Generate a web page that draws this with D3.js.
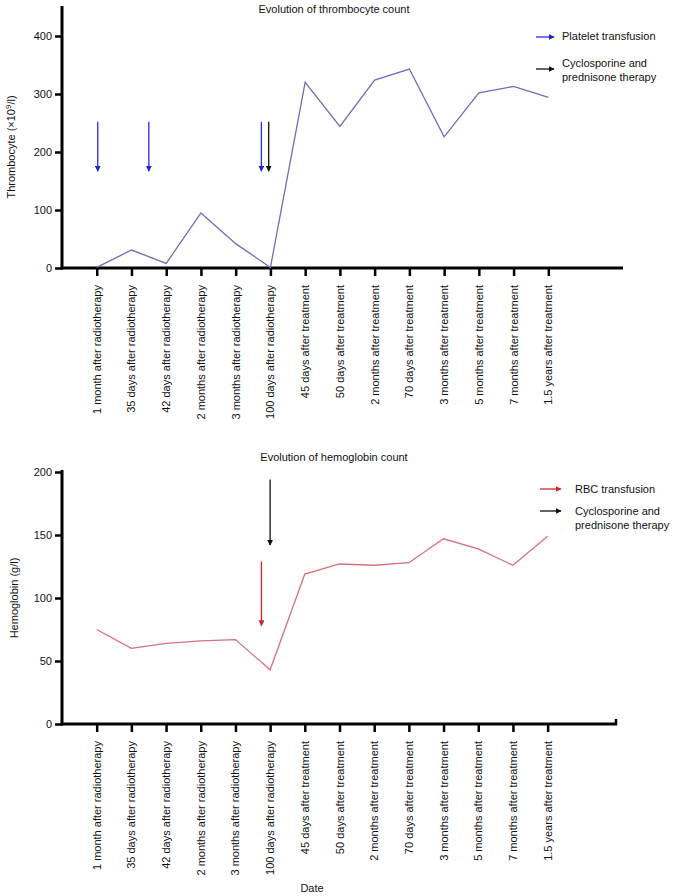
<!DOCTYPE html>
<html><head><meta charset="utf-8">
<script src="https://cdn.jsdelivr.net/npm/d3@7"></script>
<style>body{margin:0;background:#fff}svg{display:block;font-family:"Liberation Sans",Arial,sans-serif}</style>
</head><body><svg id="c" width="677" height="896"></svg>
<script>
const categories = ["1 month after radiotherapy","35 days after radiotherapy","42 days after radiotherapy","2 months after radiotherapy","3 months after radiotherapy","100 days after radiotherapy","45 days after treatment","50 days after treatment","2 months after treatment","70 days after treatment","3 months after treatment","5 months after treatment","7 months after treatment","1.5 years after treatment"];
const thrombocyte = [1,31,8,95,42,1,320,244,324,343,226,302,313,294];
const hemoglobin = [75,60,64,66,67,43,119,127,126,128,147,139,126,149];
const thromboTicks = [0,100,200,300,400];
const hemoTicks = [0,50,100,150,200];
// arrows: position in category index (1-based), from value, to value
const plateletArrows = [{pos:1.03,from:252,to:167},{pos:2.5,from:252,to:167},{pos:5.74,from:252,to:167}];
const thromboTherapyArrows = [{pos:5.95,from:252,to:167}];
const rbcArrows = [{pos:5.75,from:129,to:78}];
const hemoTherapyArrows = [{pos:6.0,from:194,to:142}];

const svg = d3.select("#c");
const defs = svg.append("defs");
function marker(id,color){
  defs.append("marker").attr("id",id).attr("viewBox","0 0 10 10").attr("refX",9).attr("refY",5)
    .attr("markerWidth",6).attr("markerHeight",6).attr("markerUnits","userSpaceOnUse").attr("orient","auto")
    .append("path").attr("d","M0,0L10,5L0,10Z").attr("fill",color);
}
marker("mb","#2020d0"); marker("mk","#111"); marker("mr","#e0202a");

function panel(o){
  const g = svg.append("g");
  const x = d3.scaleLinear().domain([0,o.xmax]).range([62,o.xend]);
  const y = d3.scaleLinear().domain([0,o.ymax]).range([o.y0,o.yTop]);
  // y axis
  const ya = g.append("g").attr("transform","translate(62,0)")
    .call(d3.axisLeft(y).tickValues(o.ticks).tickSize(7).tickSizeOuter(0).tickPadding(3));
  ya.select(".domain").attr("stroke-width",3).attr("d",`M0,${y(0)+1.5}V${o.axisTop}`);
  ya.selectAll(".tick line").attr("stroke-width",2.5);
  ya.selectAll("text").attr("font-size",11).attr("fill","#111");
  // x axis
  const xa = g.append("g").attr("transform",`translate(0,${o.y0})`)
    .call(d3.axisBottom(x).tickValues(d3.range(1,15)).tickSize(8).tickSizeOuter(0).tickFormat(""));
  xa.select(".domain").attr("stroke-width",3).attr("d",`M60.5,0H${o.xend}`);
  xa.selectAll(".tick line").attr("stroke-width",2.5);
  if(o.endTick) xa.append("line").attr("x1",o.xend-1).attr("x2",o.xend-1).attr("y1",-5).attr("y2",1).attr("stroke","#000").attr("stroke-width",2.5);
  // category labels
  g.append("g").selectAll("text").data(categories).join("text")
    .attr("transform",(d,i)=>`translate(${x(i+1)+4},${o.y0+17}) rotate(-90)`)
    .attr("text-anchor","end").attr("font-size",11).attr("fill","#111").text(d=>d);
  // line
  g.append("path").datum(o.values).attr("fill","none").attr("stroke",o.lineColor).attr("stroke-width",1.3)
    .attr("d",d3.line().x((d,i)=>x(i+1)).y(d=>y(d)));
  // arrows
  o.arrows.forEach(a=>{
    g.selectAll(null).data(a.data).join("line")
      .attr("x1",d=>x(d.pos)).attr("x2",d=>x(d.pos)).attr("y1",d=>y(d.from)).attr("y2",d=>y(d.to))
      .attr("stroke",a.color).attr("stroke-width",1.3).attr("marker-end",`url(#${a.marker})`);
  });
  // title
  g.append("text").attr("x",334).attr("y",o.titleY).attr("text-anchor","middle").attr("font-size",11).attr("fill","#111").text(o.title);
  // y label
  g.append("text").attr("transform",`translate(${o.ylabX},${o.ylabY}) rotate(-90)`).attr("text-anchor","middle")
    .attr("font-size",11).attr("fill","#111").html(o.ylab);
  // legend
  o.legend.forEach(l=>{
    g.append("line").attr("x1",l.x1).attr("x2",l.x2).attr("y1",l.y).attr("y2",l.y).attr("stroke",l.color)
      .attr("stroke-width",1.3).attr("marker-end",`url(#${l.marker})`);
    l.lines.forEach((t,k)=>g.append("text").attr("x",l.tx).attr("y",l.ty+k*14).attr("font-size",11).attr("fill","#111").text(t));
  });
}

panel({xmax:16.15,xend:623,ymax:400,y0:268,yTop:36,axisTop:6,ticks:thromboTicks,values:thrombocyte,lineColor:"#6e6eb8",
  arrows:[{data:plateletArrows,color:"#2a2ad8",marker:"mb"},{data:thromboTherapyArrows,color:"#111",marker:"mk"}],
  title:"Evolution of thrombocyte count",titleY:13,ylabX:15,ylabY:147,
  ylab:'Thrombocyte (×10<tspan baseline-shift="super" font-size="8">9</tspan>/l)',
  legend:[{x1:536,x2:554,y:37,color:"#2a2ad8",marker:"mb",tx:562,ty:40,lines:["Platelet transfusion"]},
          {x1:536,x2:554,y:69,color:"#111",marker:"mk",tx:562,ty:67,lines:["Cyclosporine and","prednisone therapy"]}]});

panel({xmax:16,xend:617,ymax:200,y0:724,yTop:472,axisTop:470,ticks:hemoTicks,values:hemoglobin,lineColor:"#d8707c",endTick:true,
  arrows:[{data:rbcArrows,color:"#e0202a",marker:"mr"},{data:hemoTherapyArrows,color:"#111",marker:"mk"}],
  title:"Evolution of hemoglobin count",titleY:461,ylabX:18,ylabY:598,ylab:"Hemoglobin (g/l)",
  legend:[{x1:540,x2:561,y:489,color:"#e0202a",marker:"mr",tx:575,ty:493,lines:["RBC transfusion"]},
          {x1:540,x2:561,y:511,color:"#111",marker:"mk",tx:575,ty:515,lines:["Cyclosporine and","prednisone therapy"]}]});

svg.append("text").attr("x",312).attr("y",892).attr("text-anchor","middle").attr("font-size",11).attr("fill","#111").text("Date");
</script></body></html>
